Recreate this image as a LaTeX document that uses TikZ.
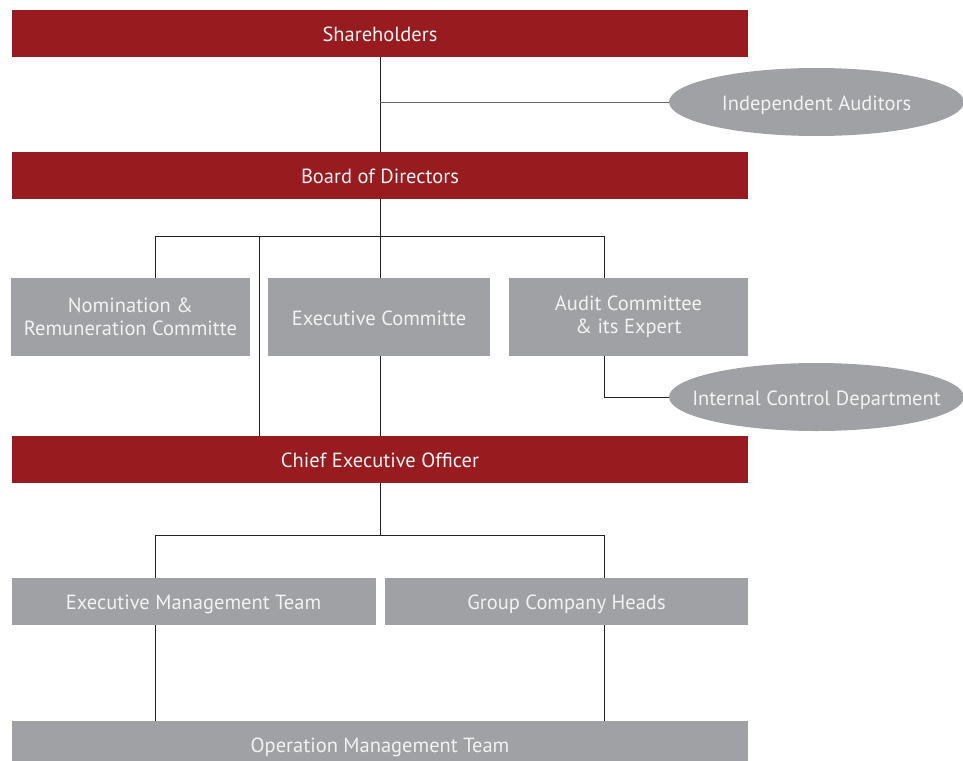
\documentclass[tikz,border=0pt]{standalone}
\usepackage{fontspec}
\setmainfont{PT Sans}
\usetikzlibrary{shapes.geometric}
\definecolor{boxred}{HTML}{971B1F}
\definecolor{boxgrey}{HTML}{A0A1A4}
\definecolor{txt}{HTML}{F2F2F2}
\definecolor{ln}{HTML}{222222}
\tikzset{
  base/.style={inner sep=0pt, text=txt, font=\fontsize{20.5}{23}\selectfont, align=center},
  oneline/.style={text height=16pt, text depth=0pt},
  redbox/.style={base, oneline, rectangle, fill=boxred, minimum width=736pt, minimum height=47pt},
  greybox/.style={base, rectangle, fill=boxgrey},
  oval/.style={base, oneline, ellipse, fill=boxgrey, minimum width=295pt, minimum height=68pt},
  conn/.style={draw=ln, line width=0.9pt},
}
\begin{document}
\begin{tikzpicture}[x=1pt,y=-1pt]
\useasboundingbox (0,0) rectangle (963,760);
\node[redbox] (sh) at (380,33.5) {Shareholders};
\node[redbox] (bod) at (380,175.5) {Board of Directors};
\node[redbox] (ceo) at (380,459.5) {Chief Executive Officer};
\node[greybox, minimum width=239pt, minimum height=78pt] (nom) at (130.5,317) {Nomination \&\\Remuneration Committe};
\node[greybox, oneline, minimum width=222pt, minimum height=78pt] (exc) at (379,317) {Executive Committe};
\node[greybox, minimum width=239pt, minimum height=78pt] (aud) at (628.5,317) {Audit Committee\\\& its Expert};
\node[oval] (ia) at (816.5,102) {\makebox[0pt][c]{Independent Auditors}};
\node[oval] (icd) at (816.5,397) {\makebox[0pt][c]{Internal Control Department}};
\node[greybox, oneline, minimum width=364pt, minimum height=47pt] (emt) at (193.5,601.5) {Executive Management Team};
\node[greybox, oneline, minimum width=363pt, minimum height=47pt] (gch) at (566.5,601.5) {Group Company Heads};
\node[greybox, oneline, minimum width=736pt, minimum height=47pt] (omt) at (380,744.5) {Operation Management Team};
% connectors
\coordinate (j1) at (380,102);
\draw[conn] (sh.south) -- (bod.north);
\draw[conn, draw=ln!70] (j1) -- (ia.west);
\coordinate (b1) at (155,236);
\coordinate (b2) at (259,236);
\coordinate (b3) at (380,236);
\coordinate (b4) at (604,236);
\draw[conn] (bod.south) -- (b3);
\draw[conn] (b1) -- (b4);
\draw[conn] (b1) -- (b1 |- nom.north);
\draw[conn] (b2) -- (b2 |- ceo.north);
\draw[conn] (b3) -- (exc.north -| b3);
\draw[conn] (b4) -- (b4 |- aud.north);
\draw[conn] (exc.south -| b3) -- (ceo.north -| b3);
\draw[conn] (aud.south -| b4) |- (icd.west);
\coordinate (c1) at (155,535);
\coordinate (c3) at (380,535);
\coordinate (c4) at (604,535);
\draw[conn] (ceo.south) -- (c3);
\draw[conn] (c1) -- (c4);
\draw[conn] (c1) -- (c1 |- emt.north);
\draw[conn] (c4) -- (c4 |- gch.north);
\draw[conn] (emt.south -| c1) -- (omt.north -| c1);
\draw[conn] (gch.south -| c4) -- (omt.north -| c4);
\end{tikzpicture}
\end{document}
